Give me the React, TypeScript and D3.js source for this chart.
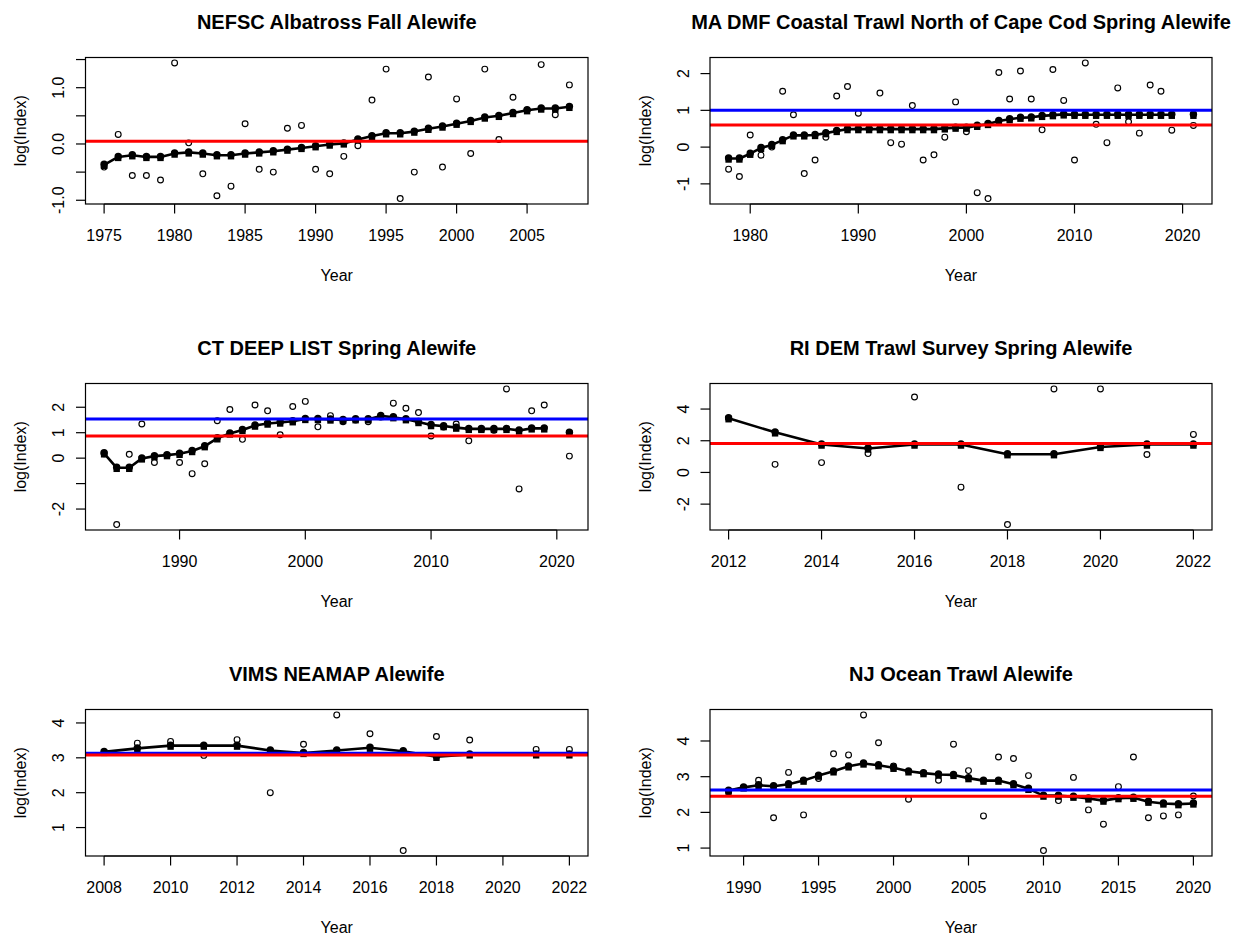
import React from 'react';
import * as d3 from 'd3';

// ---------- Panel 1: NEFSC Albatross Fall Alewife ----------
const p1Title = 'NEFSC Albatross Fall Alewife';
const p1Years = [1975, 1976, 1977, 1978, 1979, 1980, 1981, 1982, 1983, 1984, 1985, 1986, 1987, 1988, 1989, 1990, 1991, 1992, 1993, 1994, 1995, 1996, 1997, 1998, 1999, 2000, 2001, 2002, 2003, 2004, 2005, 2006, 2007, 2008];
const p1Obs = [-0.41, 0.17, -0.56, -0.56, -0.64, 1.44, 0.02, -0.53, -0.92, -0.75, 0.36, -0.45, -0.5, 0.28, 0.33, -0.45, -0.53, -0.22, -0.03, 0.78, 1.33, -0.97, -0.5, 1.19, -0.41, 0.8, -0.17, 1.33, 0.08, 0.83, 0.6, 1.41, 0.52, 1.05];
const p1Fit = [-0.37, -0.23, -0.2, -0.23, -0.23, -0.17, -0.15, -0.17, -0.2, -0.2, -0.17, -0.15, -0.13, -0.1, -0.07, -0.04, -0.01, 0.01, 0.08, 0.14, 0.19, 0.19, 0.22, 0.27, 0.31, 0.36, 0.41, 0.47, 0.5, 0.55, 0.6, 0.63, 0.63, 0.66];
const p1Red = 0.05;
const p1Blue: number | null = null;
const p1XTicks = [1975, 1980, 1985, 1990, 1995, 2000, 2005];
const p1YTicks = [-1, -0.5, 0, 0.5, 1, 1.5];
const p1YLabels = ['-1.0', '', '0.0', '', '1.0', ''];

// ---------- Panel 2: MA DMF ----------
const p2Title = 'MA DMF Coastal Trawl North of Cape Cod Spring Alewife';
const p2Years = [1978, 1979, 1980, 1981, 1982, 1983, 1984, 1985, 1986, 1987, 1988, 1989, 1990, 1991, 1992, 1993, 1994, 1995, 1996, 1997, 1998, 1999, 2000, 2001, 2002, 2003, 2004, 2005, 2006, 2007, 2008, 2009, 2010, 2011, 2012, 2013, 2014, 2015, 2016, 2017, 2018, 2019, 2020, 2021];
const p2Obs = [-0.6, -0.8, 0.33, -0.22, 0.0, 1.52, 0.88, -0.72, -0.35, 0.27, 1.39, 1.65, 0.92, 0.5, 1.47, 0.12, 0.08, 1.13, -0.35, -0.21, 0.27, 1.23, 0.42, -1.24, -1.4, 2.03, 1.31, 2.07, 1.31, 0.47, 2.11, 1.27, -0.35, 2.29, 0.62, 0.12, 1.61, 0.69, 0.38, 1.69, 1.52, 0.46, null, 0.59];
const p2Fit = [-0.31, -0.31, -0.18, -0.02, 0.06, 0.19, 0.32, 0.32, 0.33, 0.38, 0.44, 0.49, 0.49, 0.49, 0.49, 0.49, 0.49, 0.49, 0.49, 0.49, 0.51, 0.53, 0.53, 0.58, 0.63, 0.71, 0.76, 0.8, 0.81, 0.85, 0.87, 0.89, 0.88, 0.88, 0.88, 0.88, 0.88, 0.88, 0.88, 0.88, 0.88, 0.88, null, 0.88];
const p2Red = 0.6;
const p2Blue = 1.0;
const p2XTicks = [1980, 1990, 2000, 2010, 2020];
const p2YTicks = [-1, 0, 1, 2];
const p2YLabels = ['-1', '0', '1', '2'];

// ---------- Panel 3: CT DEEP LIST ----------
const p3Title = 'CT DEEP LIST Spring Alewife';
const p3Years = [1984, 1985, 1986, 1987, 1988, 1989, 1990, 1991, 1992, 1993, 1994, 1995, 1996, 1997, 1998, 1999, 2000, 2001, 2002, 2003, 2004, 2005, 2006, 2007, 2008, 2009, 2010, 2011, 2012, 2013, 2014, 2015, 2016, 2017, 2018, 2019, 2020, 2021];
const p3Obs = [0.17, -2.61, 0.15, 1.34, -0.17, 0.1, -0.17, -0.61, -0.22, 1.47, 1.91, 0.74, 2.09, 1.86, 0.92, 2.03, 2.23, 1.23, 1.67, 1.43, 1.5, 1.43, 1.62, 2.16, 1.96, 1.79, 0.87, 1.22, 1.34, 0.68, 1.12, 1.1, 2.72, -1.21, 1.86, 2.09, null, 0.08];
const p3Fit = [0.19, -0.38, -0.38, -0.01, 0.08, 0.12, 0.17, 0.28, 0.47, 0.78, 0.97, 1.11, 1.28, 1.36, 1.4, 1.45, 1.54, 1.54, 1.52, 1.5, 1.53, 1.53, 1.66, 1.61, 1.53, 1.42, 1.3, 1.26, 1.2, 1.15, 1.15, 1.15, 1.15, 1.09, 1.17, 1.17, null, 1.0];
const p3Red = 0.87;
const p3Blue = 1.54;
const p3XTicks = [1990, 2000, 2010, 2020];
const p3YTicks = [-2, -1, 0, 1, 2];
const p3YLabels = ['-2', '', '0', '1', '2'];

// ---------- Panel 4: RI DEM ----------
const p4Title = 'RI DEM Trawl Survey Spring Alewife';
const p4Years = [2012, 2013, 2014, 2015, 2016, 2017, 2018, 2019, 2020, 2021, 2022];
const p4Obs = [3.42, 0.51, 0.62, 1.19, 4.76, -0.93, -3.29, 5.27, 5.27, 1.13, 2.4];
const p4Fit = [3.42, 2.53, 1.76, 1.51, 1.76, 1.76, 1.15, 1.15, 1.61, 1.76, 1.76];
const p4Red = 1.83;
const p4Blue: number | null = null;
const p4XTicks = [2012, 2014, 2016, 2018, 2020, 2022];
const p4YTicks = [-2, 0, 2, 4];
const p4YLabels = ['-2', '0', '2', '4'];

// ---------- Panel 5: VIMS NEAMAP ----------
const p5Title = 'VIMS NEAMAP Alewife';
const p5Years = [2008, 2009, 2010, 2011, 2012, 2013, 2014, 2015, 2016, 2017, 2018, 2019, 2020, 2021, 2022];
const p5Obs = [3.15, 3.42, 3.47, 3.07, 3.52, 2.0, 3.39, 4.23, 3.69, 0.34, 3.61, 3.51, null, 3.24, 3.24];
const p5Fit = [3.17, 3.27, 3.35, 3.35, 3.35, 3.21, 3.14, 3.21, 3.29, 3.19, 3.03, 3.1, null, 3.1, 3.1];
const p5Red = 3.08;
const p5Blue = 3.13;
const p5XTicks = [2008, 2010, 2012, 2014, 2016, 2018, 2020, 2022];
const p5YTicks = [1, 2, 3, 4];
const p5YLabels = ['1', '2', '3', '4'];

// ---------- Panel 6: NJ Ocean Trawl ----------
const p6Title = 'NJ Ocean Trawl Alewife';
const p6Years = [1989, 1990, 1991, 1992, 1993, 1994, 1995, 1996, 1997, 1998, 1999, 2000, 2001, 2002, 2003, 2004, 2005, 2006, 2007, 2008, 2009, 2010, 2011, 2012, 2013, 2014, 2015, 2016, 2017, 2018, 2019, 2020];
const p6Obs = [2.58, 2.7, 2.9, 1.85, 3.12, 1.93, 2.95, 3.64, 3.61, 4.73, 3.95, 3.3, 2.37, 3.1, 2.9, 3.91, 3.17, 1.9, 3.55, 3.51, 3.03, 0.93, 2.33, 2.98, 2.07, 1.67, 2.72, 3.55, 1.85, 1.9, 1.93, 2.46];
const p6Fit = [2.61, 2.7, 2.76, 2.73, 2.79, 2.89, 3.03, 3.15, 3.29, 3.37, 3.32, 3.25, 3.15, 3.1, 3.06, 3.05, 2.96, 2.89, 2.89, 2.79, 2.66, 2.47, 2.47, 2.44, 2.39, 2.33, 2.4, 2.41, 2.3, 2.25, 2.23, 2.25];
const p6Red = 2.45;
const p6Blue = 2.63;
const p6XTicks = [1990, 1995, 2000, 2005, 2010, 2015, 2020];
const p6YTicks = [1, 2, 3, 4];
const p6YLabels = ['1', '2', '3', '4'];

type PanelCfg = {
  title: string;
  years: number[];
  obs: (number | null)[];
  fit: (number | null)[];
  red: number;
  blue: number | null;
  xTicks: number[];
  yTicks: number[];
  yLabels: string[];
  col: number;
  row: number;
};

const panels: PanelCfg[] = [
  { title: p1Title, years: p1Years, obs: p1Obs, fit: p1Fit, red: p1Red, blue: p1Blue, xTicks: p1XTicks, yTicks: p1YTicks, yLabels: p1YLabels, col: 0, row: 0 },
  { title: p2Title, years: p2Years, obs: p2Obs, fit: p2Fit, red: p2Red, blue: p2Blue, xTicks: p2XTicks, yTicks: p2YTicks, yLabels: p2YLabels, col: 1, row: 0 },
  { title: p3Title, years: p3Years, obs: p3Obs, fit: p3Fit, red: p3Red, blue: p3Blue, xTicks: p3XTicks, yTicks: p3YTicks, yLabels: p3YLabels, col: 0, row: 1 },
  { title: p4Title, years: p4Years, obs: p4Obs, fit: p4Fit, red: p4Red, blue: p4Blue, xTicks: p4XTicks, yTicks: p4YTicks, yLabels: p4YLabels, col: 1, row: 1 },
  { title: p5Title, years: p5Years, obs: p5Obs, fit: p5Fit, red: p5Red, blue: p5Blue, xTicks: p5XTicks, yTicks: p5YTicks, yLabels: p5YLabels, col: 0, row: 2 },
  { title: p6Title, years: p6Years, obs: p6Obs, fit: p6Fit, red: p6Red, blue: p6Blue, xTicks: p6XTicks, yTicks: p6YTicks, yLabels: p6YLabels, col: 1, row: 2 },
];

// Layout (pixels)
const COLS: [number, number][] = [[85.5, 588], [710, 1212]];
const ROW_TOPS = [57.5, 383.5, 709.5];
const BOX_H = 146.5;
const FONT = '"Liberation Sans", Arial, Helvetica, sans-serif';

// R-style range with 4% extension
function rRange(vals: (number | null)[]): [number, number] {
  const v = vals.filter((d): d is number => d != null);
  const lo = d3.min(v) as number;
  const hi = d3.max(v) as number;
  const ext = (hi - lo) * 0.04;
  return [lo - ext, hi + ext];
}

function Panel({ p }: { p: PanelCfg }) {
  const [x0, x1] = COLS[p.col];
  const y0 = ROW_TOPS[p.row];
  const y1 = y0 + BOX_H;
  const x = d3.scaleLinear().domain(rRange(p.years)).range([x0, x1]);
  const y = d3.scaleLinear().domain(rRange([...p.obs, ...p.fit])).range([y1, y0]);

  const fitPts = p.years.map((yr, i) => ({ yr, v: p.fit[i] }));
  const obsPts = p.years.map((yr, i) => ({ yr, v: p.obs[i] })).filter((d) => d.v != null);
  const line = d3
    .line<{ yr: number; v: number | null }>()
    .defined((d) => d.v != null)
    .x((d) => x(d.yr))
    .y((d) => y(d.v as number));

  const cx = (x0 + x1) / 2;
  const cy = (y0 + y1) / 2;
  const tickLen = 9.5;

  return (
    <g>
      <text x={cx} y={y0 - 35.5} dy="0.35em" textAnchor="middle" fontWeight="bold" fontSize={20} fontFamily={FONT}>
        {p.title}
      </text>
      {/* fitted line */}
      <path d={line(fitPts) || ''} fill="none" stroke="#000" strokeWidth={2.6} strokeLinejoin="round" />
      {fitPts
        .filter((d) => d.v != null)
        .map((d, i) => (
          <g key={'f' + i}>
            <circle cx={x(d.yr)} cy={y(d.v as number) - 0.5} r={3.7} fill="#000" />
            <rect x={x(d.yr) - 3.2} y={y(d.v as number) - 2.2} width={6.4} height={6.4} fill="#000" />
          </g>
        ))}
      {obsPts.map((d, i) => (
        <circle key={'o' + i} cx={x(d.yr)} cy={y(d.v as number)} r={2.9} fill="none" stroke="#000" strokeWidth={1.15} />
      ))}
      {p.blue != null && (
        <line x1={x0} x2={x1} y1={y(p.blue)} y2={y(p.blue)} stroke="#0000ff" strokeWidth={3} />
      )}
      <line x1={x0} x2={x1} y1={y(p.red)} y2={y(p.red)} stroke="#ff0000" strokeWidth={3} />
      {/* box */}
      <rect x={x0} y={y0} width={x1 - x0} height={y1 - y0} fill="none" stroke="#000" strokeWidth={1.2} />
      {/* x axis */}
      <line x1={x(p.xTicks[0])} x2={x(p.xTicks[p.xTicks.length - 1])} y1={y1} y2={y1} stroke="#000" strokeWidth={1.2} />
      {p.xTicks.map((t) => (
        <g key={'xt' + t}>
          <line x1={x(t)} x2={x(t)} y1={y1} y2={y1 + tickLen} stroke="#000" strokeWidth={1.2} />
          <text x={x(t)} y={y1 + 31} dy="0.35em" textAnchor="middle" fontSize={16} fontFamily={FONT}>
            {t}
          </text>
        </g>
      ))}
      <text x={cx} y={y1 + 71} dy="0.35em" textAnchor="middle" fontSize={16} fontFamily={FONT}>
        Year
      </text>
      {/* y axis */}
      {p.yTicks.map((t, i) => (
        <g key={'yt' + t}>
          <line x1={x0 - tickLen} x2={x0} y1={y(t)} y2={y(t)} stroke="#000" strokeWidth={1.2} />
          {p.yLabels[i] !== '' && (
            <text
              transform={`translate(${x0 - 27},${y(t)}) rotate(-90)`}
              dy="0.35em"
              textAnchor="middle"
              fontSize={16}
              fontFamily={FONT}
            >
              {p.yLabels[i]}
            </text>
          )}
        </g>
      ))}
      <text transform={`translate(${x0 - 65},${cy}) rotate(-90)`} dy="0.35em" textAnchor="middle" fontSize={16} fontFamily={FONT}>
        log(Index)
      </text>
    </g>
  );
}

export default function App() {
  return (
    <svg
      width={1245}
      height={936}
      viewBox="0 0 1245 936"
      style={{ position: 'absolute', left: 0, top: 0, background: '#fff' }}
    >
      <rect x={0} y={0} width={1245} height={936} fill="#fff" />
      {panels.map((p, i) => (
        <Panel key={i} p={p} />
      ))}
    </svg>
  );
}
